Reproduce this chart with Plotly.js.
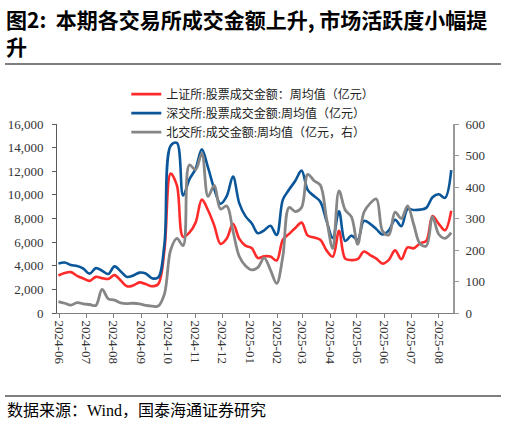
<!DOCTYPE html>
<html>
<head>
<meta charset="utf-8">
<script src="https://cdn.plot.ly/plotly-3.0.1.min.js"></script>
<style>
  html, body { margin: 0; padding: 0; background: #fff; }
  #chart { width: 506px; height: 426px; }
</style>
</head>
<body>
<div id="chart"></div>
<script>
// Weekly dates (week ending)
const dates = [
  '2024-05-31','2024-06-07','2024-06-14','2024-06-21','2024-06-28',
  '2024-07-05','2024-07-12','2024-07-19','2024-07-26',
  '2024-08-02','2024-08-09','2024-08-16','2024-08-23','2024-08-30',
  '2024-09-06','2024-09-13','2024-09-20','2024-09-27',
  '2024-10-04','2024-10-11','2024-10-18','2024-10-25',
  '2024-11-01','2024-11-08','2024-11-15','2024-11-22','2024-11-29',
  '2024-12-06','2024-12-13','2024-12-20','2024-12-27',
  '2025-01-03','2025-01-10','2025-01-17','2025-01-24','2025-01-31',
  '2025-02-07','2025-02-14','2025-02-21','2025-02-28',
  '2025-03-07','2025-03-14','2025-03-21','2025-03-28',
  '2025-04-04','2025-04-11','2025-04-18','2025-04-25',
  '2025-05-02','2025-05-09','2025-05-16','2025-05-23','2025-05-30',
  '2025-06-06','2025-06-13','2025-06-20','2025-06-27',
  '2025-07-04','2025-07-11','2025-07-18','2025-07-25',
  '2025-08-01','2025-08-08','2025-08-15'
];

// 上证所:股票成交金额：周均值（亿元）
const shValues = [
  3180,3380,3460,3150,2920,2720,3060,2950,2880,3210,2750,2260,2330,2590,2450,2260,2450,5300,
  11800,10800,6450,6800,7650,9600,8700,7400,5850,6300,7550,6300,5700,5500,
  4650,4800,4780,4450,6200,6700,7200,7650,6550,6400,6200,5300,4770,6950,4600,4480,
  4560,5200,4900,4600,4180,4500,5300,4560,5550,5480,5900,6100,8200,7550,7000,8650
];

// 深交所:股票成交金额:周均值（亿元）
const szValues = [
  4180,4270,4060,3970,3750,3330,3800,3580,3300,3950,3520,3050,3170,3420,3350,2950,3000,5800,
  14150,14400,9950,11300,12200,13850,12300,10500,9250,9900,11550,9300,8200,7600,
  6750,7000,7380,6600,9600,10450,11200,12050,10400,9900,9420,7800,6350,8600,6100,6550,
  6200,7800,7550,7100,6650,7000,7900,7350,8800,8720,8750,8900,9800,10050,9750,12100
];

// 北交所:成交金额:周均值（亿元，右）
const bjValues = [
  36,31,25,33,29,27,24,75,45,41,32,30,31,29,24,22,22,60,
  200,237,214,470,455,507,370,405,330,340,260,180,150,137,
  145,175,137,94,180,335,322,335,440,420,406,300,205,388,327,305,
  218,320,348,362,260,248,320,300,340,280,220,213,305,250,237,255
];

const seriesNames = [
  '上证所:股票成交金额：周均值（亿元）',
  '深交所:股票成交金额:周均值（亿元）',
  '北交所:成交金额:周均值（亿元，右）'
];
const leftTicks = [0, 2000, 4000, 6000, 8000, 10000, 12000, 14000, 16000];
const rightTicks = [0, 100, 200, 300, 400, 500, 600];

const titleText = '图2:  本期各交易所成交金额上升, 市场活跃度小幅提<br>升';
const sourceText = '数据来源：Wind，国泰海通证券研究';

const serif = 'Liberation Serif, Noto Sans CJK SC, serif';
const cjk = 'Liberation Serif, Noto Sans CJK SC, sans-serif';
const titleFont = { family: 'Noto Sans CJK SC, sans-serif', size: 21, color: '#000', weight: 'bold' };

const traces = [
  { x: dates, y: shValues, name: seriesNames[0], type: 'scatter', mode: 'lines',
    line: { color: '#FF2A2A', width: 2.6, shape: 'spline', smoothing: 1 }, yaxis: 'y' },
  { x: dates, y: szValues, name: seriesNames[1], type: 'scatter', mode: 'lines',
    line: { color: '#0A5699', width: 2.6, shape: 'spline', smoothing: 1 }, yaxis: 'y' },
  { x: dates, y: bjValues, name: seriesNames[2], type: 'scatter', mode: 'lines',
    line: { color: '#868686', width: 2.8, shape: 'spline', smoothing: 1 }, yaxis: 'y2' }
];

const px2x = (px) => (px - 57) / 396;
const py2y = (py) => (313 - py) / 189;

const layout = {
  width: 506, height: 426,
  margin: { l: 57, r: 53, t: 124, b: 113 },
  paper_bgcolor: '#fff', plot_bgcolor: '#fff',
  showlegend: true,
  legend: {
    x: 0.175, y: 1.235, xanchor: 'left', yanchor: 'top',
    bgcolor: 'rgba(0,0,0,0)', borderwidth: 0,
    font: { family: cjk, size: 12, color: '#222' },
    traceorder: 'normal', itemwidth: 30
  },
  xaxis: {
    type: 'date',
    range: ['2024-05-29 10:00', '2025-08-17 00:00'],
    tick0: '2024-06-01', dtick: 'M1', tickformat: '%Y-%m',
    tickangle: 90,
    ticks: 'outside', ticklen: 4, tickcolor: '#808080',
    showline: true, linecolor: '#808080', linewidth: 1,
    showgrid: false, zeroline: false,
    tickfont: { family: serif, size: 13, color: '#333' }
  },
  yaxis: {
    range: [0, 16000], tickvals: leftTicks, tickformat: ',d',
    ticks: 'outside', ticklen: 4, tickcolor: '#595959',
    showline: true, linecolor: '#595959', linewidth: 1,
    showgrid: false, zeroline: false,
    tickfont: { family: serif, size: 13, color: '#333' },
    ticklabelstandoff: 6
  },
  yaxis2: {
    range: [0, 600], tickvals: rightTicks,
    overlaying: 'y', side: 'right',
    ticks: 'outside', ticklen: 4, tickcolor: '#999',
    showline: true, linecolor: '#999', linewidth: 2,
    showgrid: false, zeroline: false,
    tickfont: { family: serif, size: 13, color: '#333' },
    ticklabelstandoff: 4
  },
  shapes: [
    { type: 'line', xref: 'paper', yref: 'paper',
      x0: px2x(5), x1: px2x(501), y0: py2y(64), y1: py2y(64),
      line: { color: '#000', width: 1.2 } },
    { type: 'line', xref: 'paper', yref: 'paper',
      x0: px2x(5), x1: px2x(501), y0: py2y(396), y1: py2y(396),
      line: { color: '#000', width: 1.2 } }
  ],
  annotations: [
    { text: titleText, xref: 'paper', yref: 'paper',
      x: px2x(4), y: py2y(2), xanchor: 'left', yanchor: 'top', align: 'left',
      showarrow: false, font: titleFont },
    { text: sourceText, xref: 'paper', yref: 'paper',
      x: px2x(5), y: py2y(410), xanchor: 'left', yanchor: 'middle',
      showarrow: false, font: { family: cjk, size: 16, color: '#000' } }
  ]
};

Plotly.newPlot('chart', traces, layout, { displayModeBar: false, staticPlot: true });
</script>
</body>
</html>
